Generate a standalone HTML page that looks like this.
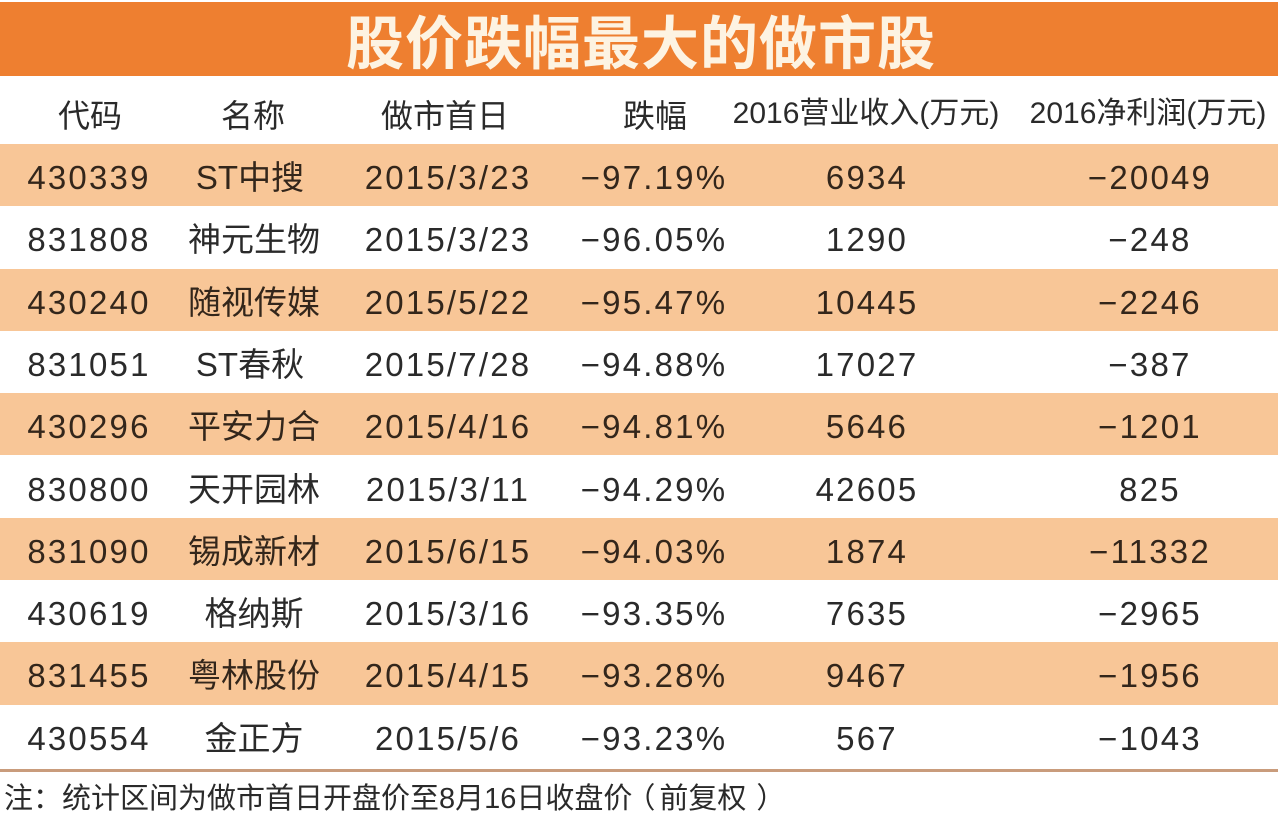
<!DOCTYPE html>
<html><head><meta charset="utf-8">
<style>
html,body{margin:0;padding:0;background:#fff;}
body{width:1280px;height:811px;position:relative;overflow:hidden;font-family:"Liberation Sans","Noto Sans CJK SC",sans-serif;color:#2a2a2a;}
.title{position:absolute;left:0;top:2px;width:1278px;height:74px;background:#ee7f30;}
.title span{position:absolute;left:0;width:1282px;top:0;height:74px;line-height:74px;text-align:center;font-family:"Noto Sans CJK SC",sans-serif;font-weight:700;font-size:58px;color:#fdf3e2;letter-spacing:1px;}
.hdr{position:absolute;top:84px;height:64px;line-height:64px;font-size:32px;color:#2a2a2a;text-align:center;width:320px;font-family:"Liberation Sans","Noto Sans CJK SC",sans-serif;}
.hdr.s{font-size:30px;top:82px;}
.row{position:absolute;left:0;width:1278px;height:62.3px;}
.row.o{background:#f8c697;}
.c{position:absolute;top:3px;width:300px;height:62px;line-height:62px;text-align:center;font-size:33px;white-space:nowrap;}
.n{letter-spacing:2.2px;}
.row.o .c{color:#33261b;}
.line{position:absolute;left:0;top:769px;width:1278px;height:3px;background:#c99c7c;}
.foot{position:absolute;left:4px;top:781px;font-size:29px;line-height:36px;color:#2a2a2a;white-space:nowrap;font-family:"Liberation Sans","Noto Sans CJK SC",sans-serif;}
.foot .p1{display:inline-block;margin:0 4px 0 -6px;}
.foot .p2{display:inline-block;margin:0 0 0 10px;}
</style></head><body>
<div class="title"><span>股价跌幅最大的做市股</span></div>

<div class="hdr" style="left:-70px">代码</div>
<div class="hdr" style="left:93px">名称</div>
<div class="hdr" style="left:285px">做市首日</div>
<div class="hdr" style="left:495px">跌幅</div>
<div class="hdr s" style="left:706px">2016营业收入(万元)</div>
<div class="hdr s" style="left:988px">2016净利润(万元)</div>

<div class="row o" style="top:144px">
<div class="c n" style="left:-61px">430339</div><div class="c" style="left:100px">ST中搜</div><div class="c n" style="left:298px">2015/3/23</div><div class="c n" style="left:504px">−97.19%</div><div class="c n" style="left:717px">6934</div><div class="c n" style="left:1000px">−20049</div></div>

<div class="row" style="top:206.3px">
<div class="c n" style="left:-61px">831808</div><div class="c" style="left:104px">神元生物</div><div class="c n" style="left:298px">2015/3/23</div><div class="c n" style="left:504px">−96.05%</div><div class="c n" style="left:717px">1290</div><div class="c n" style="left:1000px">−248</div></div>

<div class="row o" style="top:268.6px">
<div class="c n" style="left:-61px">430240</div><div class="c" style="left:104px">随视传媒</div><div class="c n" style="left:298px">2015/5/22</div><div class="c n" style="left:504px">−95.47%</div><div class="c n" style="left:717px">10445</div><div class="c n" style="left:1000px">−2246</div></div>

<div class="row" style="top:330.9px">
<div class="c n" style="left:-61px">831051</div><div class="c" style="left:100px">ST春秋</div><div class="c n" style="left:298px">2015/7/28</div><div class="c n" style="left:504px">−94.88%</div><div class="c n" style="left:717px">17027</div><div class="c n" style="left:1000px">−387</div></div>

<div class="row o" style="top:393.2px">
<div class="c n" style="left:-61px">430296</div><div class="c" style="left:104px">平安力合</div><div class="c n" style="left:298px">2015/4/16</div><div class="c n" style="left:504px">−94.81%</div><div class="c n" style="left:717px">5646</div><div class="c n" style="left:1000px">−1201</div></div>

<div class="row" style="top:455.5px">
<div class="c n" style="left:-61px">830800</div><div class="c" style="left:104px">天开园林</div><div class="c n" style="left:298px">2015/3/11</div><div class="c n" style="left:504px">−94.29%</div><div class="c n" style="left:717px">42605</div><div class="c n" style="left:1000px">825</div></div>

<div class="row o" style="top:517.8px">
<div class="c n" style="left:-61px">831090</div><div class="c" style="left:104px">锡成新材</div><div class="c n" style="left:298px">2015/6/15</div><div class="c n" style="left:504px">−94.03%</div><div class="c n" style="left:717px">1874</div><div class="c n" style="left:1000px">−11332</div></div>

<div class="row" style="top:580.1px">
<div class="c n" style="left:-61px">430619</div><div class="c" style="left:104px">格纳斯</div><div class="c n" style="left:298px">2015/3/16</div><div class="c n" style="left:504px">−93.35%</div><div class="c n" style="left:717px">7635</div><div class="c n" style="left:1000px">−2965</div></div>

<div class="row o" style="top:642.4px">
<div class="c n" style="left:-61px">831455</div><div class="c" style="left:104px">粤林股份</div><div class="c n" style="left:298px">2015/4/15</div><div class="c n" style="left:504px">−93.28%</div><div class="c n" style="left:717px">9467</div><div class="c n" style="left:1000px">−1956</div></div>

<div class="row" style="top:704.7px">
<div class="c n" style="left:-61px">430554</div><div class="c" style="left:104px">金正方</div><div class="c n" style="left:298px">2015/5/6</div><div class="c n" style="left:504px">−93.23%</div><div class="c n" style="left:717px">567</div><div class="c n" style="left:1000px">−1043</div></div>

<div class="line"></div>
<div class="foot">注：统计区间为做市首日开盘价至8月16日收盘价<span class="p1">（</span>前复权<span class="p2">）</span></div>
</body></html>
